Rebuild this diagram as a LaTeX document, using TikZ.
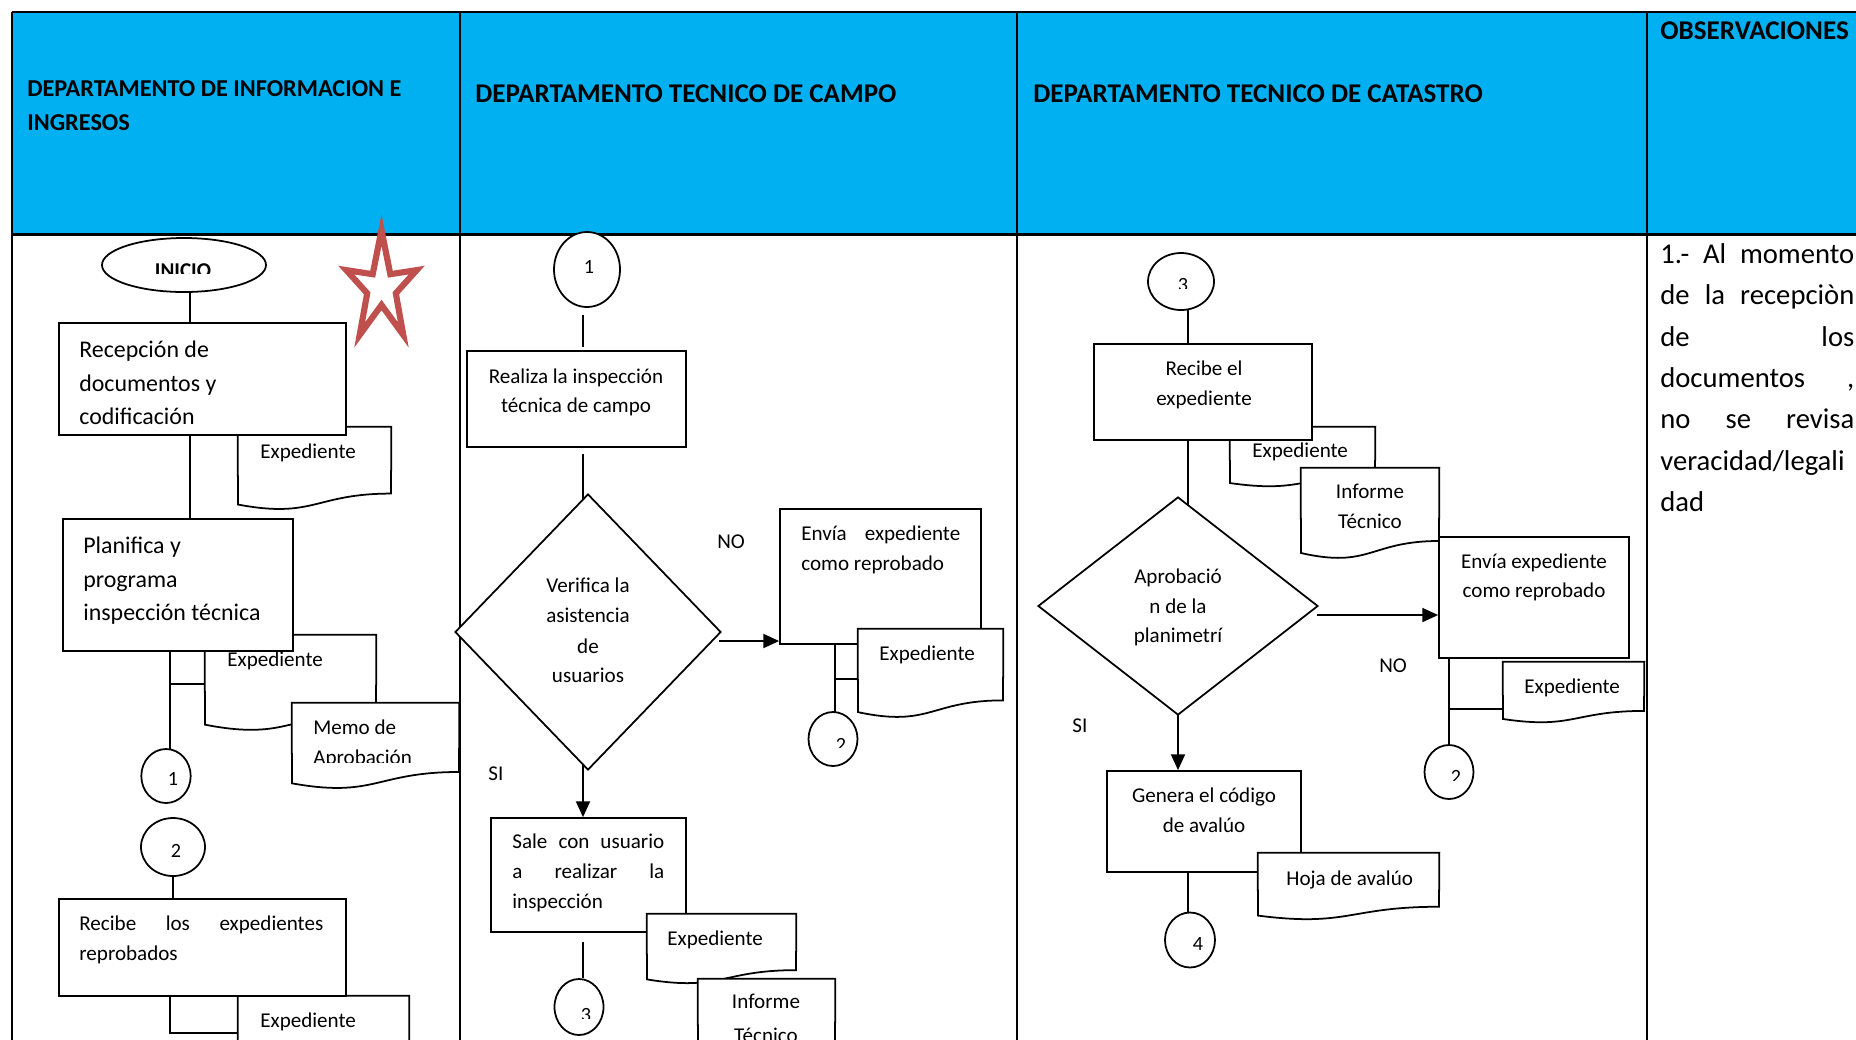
\documentclass[tikz,border=0pt]{standalone}
\usepackage{fontspec}
\setmainfont{Carlito}
\usetikzlibrary{shapes.geometric,arrows.meta}
\definecolor{hdr}{RGB}{0,176,240}
\definecolor{starred}{RGB}{192,80,77}
\pgfdeclarelayer{back}
\pgfdeclarelayer{conn}
\pgfsetlayers{back,conn,main}
\newcommand\mkbox[5]{%
  \pgfmathsetmacro\bw{(#4-#2)*0.02}\pgfmathsetmacro\bh{(#5-#3)*0.02}%
  \node[boxst,minimum width=\bw cm,minimum height=\bh cm] (#1) at ({(#2+#4)/2},{(#3+#5)/2}) {};}
\newcommand\mkdoc[5]{%
  \pgfmathsetmacro\bw{(#4-#2)*0.02}\pgfmathsetmacro\bh{(#5)*0.02}%
  \node[inner sep=0pt,minimum width=\bw cm,minimum height=\bh cm] (#1) at ({(#2+#4)/2},{#3+(#5)/2}) {};%
  \draw[docst] (#1.north west) -- (#1.north east) -- ({#4},{#3+0.802*(#5)})
    .. controls ({(#2+#4)/2},{#3+0.802*(#5)}) and ({(#2+#4)/2},{#3+1.108*(#5)}) .. ({#2},{#3+0.934*(#5)}) -- cycle;}
\newcommand\mkell[5]{%
  \pgfmathsetmacro\bw{2*(#4)*0.02}\pgfmathsetmacro\bh{2*(#5)*0.02}%
  \node[cir,minimum width=\bw cm,minimum height=\bh cm] (#1) at (#2,#3) {};}
\newcommand\mkdia[5]{%
  \pgfmathsetmacro\bw{2*(#4)*0.02}\pgfmathsetmacro\bh{2*(#5)*0.02}%
  \node[dia,minimum width=\bw cm,minimum height=\bh cm] (#1) at (#2,#3) {};}
\newcommand\txl[5][tx]{\node[#1,anchor=base west] (#2) at (#3,#4) {#5};}
\newcommand\txc[5][tx]{\node[#1,anchor=base] (#2) at (#3,#4) {#5};}
\newcommand\jst[2]{\makebox[#1cm][s]{#2}}
\begin{document}
\begin{tikzpicture}[x=0.02cm,y=-0.02cm,
  boxst/.style={draw,fill=white,line width=1pt,inner sep=0pt,rectangle},
  docst/.style={draw,fill=white,line width=1pt},
  cir/.style={draw,fill=white,ellipse,line width=1pt,inner sep=0pt},
  dia/.style={draw,fill=white,diamond,line width=1pt,inner sep=0pt},
  ln/.style={line width=1pt},
  arr/.style={line width=1pt,-{Triangle[length=9pt,width=8pt]}},
  tbl/.style={line width=1.1pt},
  hd/.style={inner sep=0pt,font=\bfseries\fontsize{15.4}{18}\selectfont},
  hdS/.style={inner sep=0pt,font=\bfseries\fontsize{13.8}{16}\selectfont},
  tx/.style={inner sep=0pt,font=\fontsize{12}{14.4}\selectfont},
  tb/.style={inner sep=0pt,font=\fontsize{13.6}{16}\selectfont},
  tbold/.style={inner sep=0pt,font=\bfseries\fontsize{12}{14.4}\selectfont},
  num/.style={inner sep=0pt,font=\fontsize{11.5}{14}\selectfont},
  obs/.style={inner sep=0pt,font=\fontsize{16.3}{19}\selectfont}]
\useasboundingbox (0,0) rectangle (1856,1039);
\clip (0,0) rectangle (1856,1039);
\begin{pgfonlayer}{back}
  \fill[hdr] (12,12) rectangle (1860,234);
  \draw[tbl] (12,12) -- (1860,12);
  \draw[line width=1.7pt] (12,234) -- (1860,234);
  \foreach \xx in {12,460,1017,1647} \draw[tbl] (\xx,12) -- (\xx,1045);
\end{pgfonlayer}
% headers
\txl[hdS]{h1}{27}{96}{DEPARTAMENTO DE INFORMACION E}
\txl[hdS]{h2}{27}{130}{INGRESOS}
\txl[hd]{h3}{475}{102}{DEPARTAMENTO TECNICO DE CAMPO}
\txl[hd]{h4}{1033}{102}{DEPARTAMENTO TECNICO DE CATASTRO}
\txl[hd]{h5}{1660}{39}{OBSERVACIONES}
% star
\draw[starred,line width=3.5pt,line join=miter,miter limit=25]
  (381.5,230) -- (390.3,274.2) -- (416.7,270.1) -- (395.8,293.3) -- (403.3,334.9)
  -- (381.5,305) -- (359.7,334.9) -- (367.2,293.3) -- (346.3,270.1) -- (372.7,274.2) -- cycle;
% column 1 shapes
\mkdoc{d1}{238}{427}{391}{83}
\mkbox{recep}{59}{323}{346}{435}
\mkell{inicio}{184}{265}{82}{27}
\mkdoc{d2}{205}{635}{376}{96}
\mkbox{planif}{63}{519}{293}{651}
\mkdoc{d3}{292}{703}{459}{86}
\mkell{c1a}{166}{776}{24.7}{27}
\mkell{c2a}{173}{847}{32}{29}
\mkdoc{d4}{238}{996}{409}{85}
\mkbox{recibe}{59}{899}{346}{996}
% column 2 shapes
\mkell{cc1}{587}{269.5}{33}{37.5}
\mkbox{realiza}{467}{351}{686}{447}
\mkdia{dv}{588}{632}{133}{138}
\mkbox{envia2}{780}{509}{981}{644}
\mkdoc{d5}{858}{629}{1003}{89}
\mkell{c2b}{833}{739}{24.5}{27}
\mkbox{sale}{491}{818}{686}{932}
\mkdoc{d6}{647}{914}{796}{70}
\mkdoc{d7}{698}{979}{835}{80}
\mkell{cc3}{579}{1007}{24.5}{28}
% column 3 shapes
\mkell{cc3b}{1181}{281.5}{33}{28.5}
\mkdoc{d8}{1230}{427}{1375}{60}
\mkbox{recibe3}{1094}{344}{1312}{440}
\mkdoc{d9}{1301}{468}{1439}{91}
\mkdia{dc3}{1178}{606}{140}{109}
\mkbox{envia3}{1439}{537}{1629}{658}
\mkdoc{d10}{1503}{662}{1644}{61}
\mkell{c2c}{1449}{772}{24.5}{27}
\mkbox{genera}{1107}{771}{1301}{872}
\mkdoc{d11}{1258}{853}{1439}{67}
\mkell{c4}{1190}{940}{25}{27.5}
% connectors
\begin{pgfonlayer}{conn}
  \coordinate (sA) at (190,0);
  \coordinate (sB) at (170,0);
  \coordinate (sC) at (583,0);
  \coordinate (sD) at (835,0);
  \coordinate (sE) at (1188,0);
  \coordinate (sF) at (1449,0);
  \coordinate (j1) at (170,684);
  \coordinate (j2) at (170,1033);
  \coordinate (j3) at (835,679);
  \coordinate (j4) at (1449,709);
  \coordinate (a1) at (719,641);
  \coordinate (a2) at (1317,615);
  \draw[ln] (inicio.south -| sA) -- (recep.north -| sA);
  \draw[ln] (recep.south -| sA) -- (planif.north -| sA);
  \draw[ln] (planif.south -| sB) -- (c1a.center -| sB);
  \draw[ln] (j1) -- (j1 -| d2.west);
  \draw[ln] (c2a.center) -- (c2a.center |- recibe.north);
  \draw[ln] (recibe.south -| sB) -- (j2) -- (j2 -| d4.west);
  \draw[ln,shorten <=4pt,shorten >=1.7pt] (cc1.south -| sC) -- (realiza.north -| sC);
  \draw[ln,shorten <=3.4pt] (realiza.south -| sC) -- (dv.center -| sC);
  \draw[arr] (a1) -- (a1 -| envia2.west);
  \draw[arr] (dv.center -| sC) -- (sale.north -| sC);
  \draw[ln,shorten <=5pt] (sale.south -| sC) -- (cc3.north -| sC);
  \draw[ln] (envia2.south -| sD) -- (c2b.center -| sD);
  \draw[ln] (j3) -- (j3 -| d5.west);
  \draw[ln] (cc3b.center -| sE) -- (recibe3.north -| sE);
  \draw[ln] (recibe3.south -| sE) -- (dc3.center -| sE);
  \draw[arr] (a2) -- (a2 -| envia3.west);
  \draw[arr] (dc3.center) -- (dc3.center |- genera.north);
  \draw[ln] (envia3.south -| sF) -- (c2c.center -| sF);
  \draw[ln] (j4) -- (j4 -| d10.west);
  \draw[ln] (genera.south -| sE) -- (c4.center -| sE);
\end{pgfonlayer}
% column 1 texts
\begin{scope}\clip (100,240) rectangle (270,273);
  \txc[tbold]{t0}{183}{277}{INICIO}
\end{scope}
\txl[tb]{t1}{79}{357}{Recepción de}
\txl[tb]{t2}{79}{391}{documentos y}
\txl[tb]{t3}{79}{424}{codificación}
\txl{t4}{260}{458}{Expediente}
\txl[tb]{t5}{83}{553}{Planifica y}
\txl[tb]{t6}{83}{587}{programa}
\txl[tb]{t7}{83}{620}{inspección técnica}
\txl{t8}{227}{666}{Expediente}
\begin{scope}\clip (292,700) rectangle (459,762.5);
  \txl{t9}{313}{734}{Memo de}
  \txl{t10}{313}{764}{Aprobación}
\end{scope}
\txc[num]{t11}{173}{785}{1}
\txc[num]{t12}{176}{857}{2}
\txl{t13}{79}{930}{\jst{4.88}{Recibe los expedientes}}
\txl{t14}{79}{960}{reprobados}
\txl{t15}{260}{1027}{Expediente}
% column 2 texts
\txc[num]{u1}{589}{273}{1}
\txc{u2}{576}{383}{Realiza la inspección}
\txc{u3}{576}{412}{técnica de campo}
\txc{u4}{588}{592}{Verifica la}
\txc{u5}{588}{622}{asistencia}
\txc{u6}{588}{653}{de}
\txc{u7}{588}{682}{usuarios}
\txl{u8}{717}{548}{NO}
\txl{u9}{801}{540}{\jst{3.18}{Envía expediente}}
\txl{u10}{801}{570}{como reprobado}
\txl{u11}{879}{660}{Expediente}
\begin{scope}\clip (800,720) rectangle (870,747);
  \txc[num]{u12}{841}{751}{2}
\end{scope}
\txl{u13}{488}{780}{SI}
\txl{u14}{512}{848}{\jst{3.04}{Sale con usuario}}
\txl{u15}{512}{878}{\jst{3.04}{a realizar la}}
\txl{u16}{512}{908}{inspección}
\txl{u17}{667}{945}{Expediente}
\txc{u18}{766}{1008}{Informe}
\txc{u19}{766}{1042}{Técnico}
\begin{scope}\clip (550,990) rectangle (610,1018);
  \txc[num]{u20}{586}{1021}{3}
\end{scope}
% column 3 texts
\begin{scope}\clip (1150,260) rectangle (1215,288);
  \txc[num]{v1}{1183}{291}{3}
\end{scope}
\txc{v2}{1204}{375}{Recibe el}
\txc{v3}{1204}{405}{expediente}
\txl{v4}{1252}{457}{Expediente}
\txc{v5}{1370}{498}{Informe}
\txc{v6}{1370}{528}{Técnico}
\txc{v7}{1178}{583}{Aprobació}
\txc{v8}{1178}{613}{n de la}
\txc{v9}{1178}{642}{planimetrí}
\txc{v10}{1534}{568}{Envía expediente}
\txc{v11}{1534}{597}{como reprobado}
\txl{v12}{1379}{672}{NO}
\txl{v13}{1524}{693}{Expediente}
\begin{scope}\clip (1425,750) rectangle (1475,780);
  \txc[num]{v14}{1456}{783}{2}
\end{scope}
\txl{v15}{1072}{732}{SI}
\txc{v16}{1204}{802}{Genera el código}
\txc{v17}{1204}{832}{de avalúo}
\txl{v18}{1286}{885}{Hoja de avalúo}
\txc[num]{v19}{1198}{950}{4}
% observations
\txl[obs]{w1}{1660}{263}{\jst{3.88}{1.- Al momento}}
\txl[obs]{w2}{1660}{304}{\jst{3.88}{de la recepciòn}}
\txl[obs]{w3}{1660}{346}{\jst{3.88}{de los}}
\txl[obs]{w4}{1660}{387}{\jst{3.88}{documentos ,}}
\txl[obs]{w5}{1660}{428}{\jst{3.88}{no se revisa}}
\txl[obs]{w6}{1660}{470}{veracidad/legali}
\txl[obs]{w7}{1660}{511}{dad}
\end{tikzpicture}
\end{document}
